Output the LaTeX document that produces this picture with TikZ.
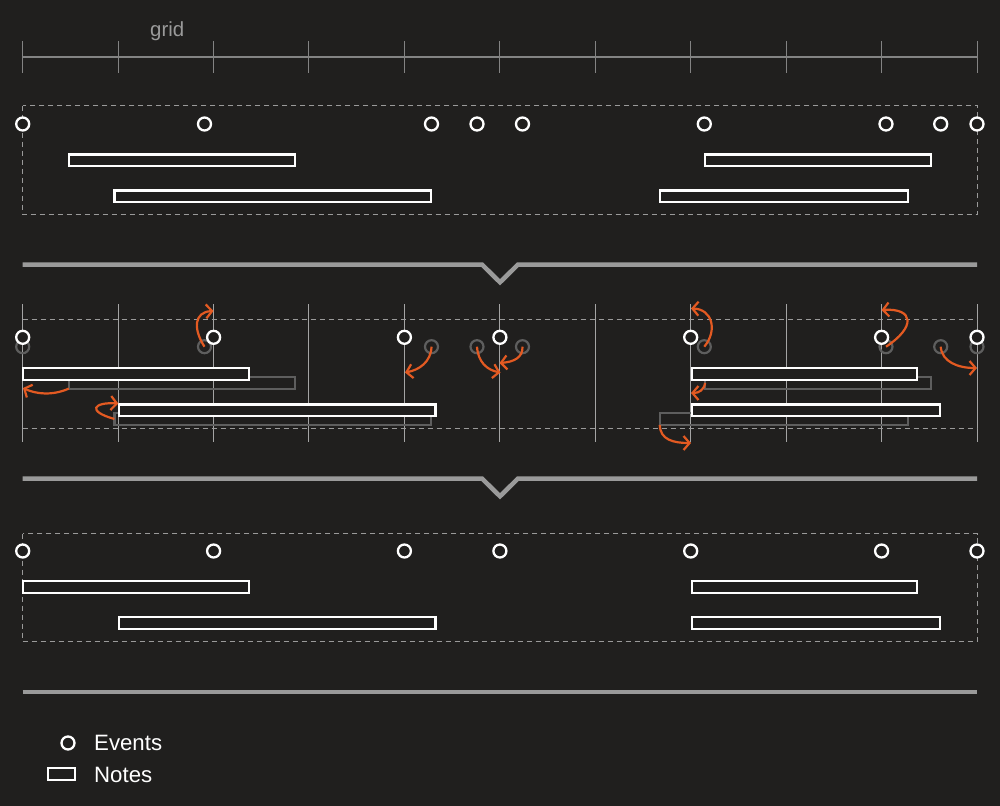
\documentclass[tikz,border=0pt]{standalone}
\usepackage{fontspec}
\setmainfont{Liberation Sans}
\usetikzlibrary{arrows.meta}
\definecolor{bg}{HTML}{201F1E}
\definecolor{acc}{HTML}{E35A22}
\definecolor{ghost}{HTML}{5E5E5E}
\definecolor{rule}{HTML}{9A9A9A}
\begin{document}
\begin{tikzpicture}[x=1bp,y=-1bp,
  event/.style={circle, draw=white, fill=bg, line width=2.3bp, minimum size=13bp, inner sep=0pt},
  ghostev/.style={circle, draw=ghost, line width=2.2bp, minimum size=13bp, inner sep=0pt},
  note/.style={rectangle, draw=white, fill=bg, line width=2.3bp, minimum height=11.8bp, inner sep=0pt, outer sep=0pt, anchor=north west},
  ghostnote/.style={rectangle, draw=ghost, line width=2.2bp, minimum height=11.8bp, inner sep=0pt, outer sep=0pt, anchor=north west},
  snaparrow/.style={draw=acc, line width=2.2bp, -{Straight Barb[length=6bp,width=14bp]}},
  gridline/.style={draw=rule!90!white, line width=1bp},
  dashline/.style={draw=rule, line width=1bp, dash pattern=on 5bp off 4bp},
  sepline/.style={draw=rule, line width=4.5bp},
  legendtext/.style={text=white, font=\fontsize{22.3}{26}\selectfont, anchor=base west, inner sep=0pt}
]
\fill[bg] (0,0) rectangle (1000,806);
\useasboundingbox (0,0) rectangle (1000,806);

% ---------- ruler ----------
\node[text=rule, font=\fontsize{20.5}{24}\selectfont, anchor=base west, inner sep=0pt] (gridlbl) at (150,36.7) {grid};
\draw[draw=rule!85!black, line width=2bp] (22.5,57) -- (977.5,57);
\foreach \x in {22.5,118.5,213.5,308.5,404.5,499.5,595.5,690.5,786.5,881.5,977.5} {
  \draw[draw=rule!85!black, line width=1bp] (\x,41) -- (\x,73);
}

% ---------- top section ----------
\draw[dashline] (22.5,105.5) rectangle (977.5,214.5);
\foreach \x/\n in {22.7/1,204.5/2,431.5/3,477/4,522.5/5,704.3/6,886/7,940.7/8,977/9} {
  \node[event] (te\n) at (\x,124) {};
}
\node[note, minimum width=226bp] (tn1) at (68.8,154.4) {};
\node[note, minimum width=316.8bp] (tn2) at (114.4,190.4) {};
\node[note, minimum width=226bp] (tn3) at (705.1,154.4) {};
\node[note, minimum width=248.4bp] (tn4) at (659.8,190.4) {};

% ---------- separator 1 ----------
\draw[sepline] (22.7,264.5) -- (482,264.5) -- (500,282.3) -- (518,264.5) -- (977,264.5);

% ---------- middle section ----------
\foreach \x in {22.5,118.5,213.5,308.5,404.5,499.5,595.5,690.5,786.5,881.5,977.5} {
  \draw[gridline] (\x,304) -- (\x,441.7);
}
\draw[dashline] (22.5,319.5) -- (977.5,319.5);
\draw[dashline] (22.5,428.5) -- (977.5,428.5);

% ghost (original) positions
\foreach \x/\n in {22.7/1,204.5/2,431.5/3,477/4,522.5/5,704.3/6,886/7,940.7/8,977/9} {
  \node[ghostev] (ge\n) at (\x,346.7) {};
}
\node[ghostnote, minimum width=226bp] (gn1) at (68.8,376.8) {};
\node[ghostnote, minimum width=316.8bp] (gn2) at (114.4,413.1) {};
\node[ghostnote, minimum width=226bp] (gn3) at (705.1,377) {};
\node[ghostnote, minimum width=248.4bp] (gn4) at (659.8,413.1) {};

% snapped positions
\foreach \x/\n in {22.7/1,213.6/2,404.4/3,499.9/4,690.7/5,881.6/6,977/7} {
  \node[event] (me\n) at (\x,337.3) {};
}
\node[note, minimum width=225.8bp] (mn1) at (23.1,368.1) {};
\node[note, minimum width=316.5bp] (mn2) at (119.1,404.4) {};
\node[note, minimum width=225.4bp] (mn3) at (691.8,368.1) {};
\node[note, minimum width=248.1bp] (mn4) at (691.8,404.4) {};

% arrow targets
\coordinate (a1) at (23,388);
\coordinate (a2) at (118.3,403.5);
\coordinate (a3) at (213.5,311);
\coordinate (a4) at (405,372.5);
\coordinate (a5) at (500.5,372.5);
\coordinate (a6) at (499.5,363);
\coordinate (a7) at (691,308.5);
\coordinate (a8) at (691,393);
\coordinate (a9) at (881.5,310);
\coordinate (a10) at (977,368);
\coordinate (a11) at (691,443);

\draw[snaparrow] (gn1.south west) .. controls (52,396) and (36,394) .. (a1);
\draw[snaparrow] (gn2.west) .. controls (86,411) and (94,402) .. (a2);
\draw[snaparrow] (ge2.center) .. controls (193,329) and (194,312) .. (a3);
\draw[snaparrow] (ge3.center) .. controls (431,362) and (419,370) .. (a4);
\draw[snaparrow] (ge4.center) .. controls (478,362) and (487,370) .. (a5);
\draw[snaparrow] (ge5.center) .. controls (523,358) and (513,362) .. (a6);
\draw[snaparrow] (ge6.center) .. controls (718,330) and (712,309) .. (a7);
\draw[snaparrow] (gn3.west) .. controls (704,390) and (699,393) .. (a8);
\draw[snaparrow] (ge7.center) .. controls (916,327) and (914,308) .. (a9);
\draw[snaparrow] (ge8.center) .. controls (942,362) and (958,368) .. (a10);
\draw[snaparrow] (gn4.south west) .. controls (660,440) and (674,443) .. (a11);

% ---------- separator 2 ----------
\draw[sepline] (22.7,478.5) -- (482,478.5) -- (500,496.3) -- (518,478.5) -- (977,478.5);

% ---------- bottom section ----------
\draw[dashline] (22.5,533.5) rectangle (977.5,641.5);
\foreach \x/\n in {22.7/1,213.6/2,404.4/3,499.9/4,690.7/5,881.6/6,977/7} {
  \node[event] (be\n) at (\x,551) {};
}
\node[note, minimum width=225.8bp] (bn1) at (23.1,581.1) {};
\node[note, minimum width=316.5bp] (bn2) at (119.1,617.1) {};
\node[note, minimum width=225.4bp] (bn3) at (691.8,581.1) {};
\node[note, minimum width=248.1bp] (bn4) at (691.8,617.1) {};

% ---------- bottom rule ----------
\draw[sepline] (22.7,692) -- (977,692);

% ---------- legend ----------
\node[event] (lev) at (68,743) {};
\node[legendtext] (levt) at (94,750.7) {Events};
\node[note, minimum width=27bp] (lnote) at (48,768) {};
\node[legendtext] (lnotet) at (94,782.3) {Notes};
\end{tikzpicture}
\end{document}
